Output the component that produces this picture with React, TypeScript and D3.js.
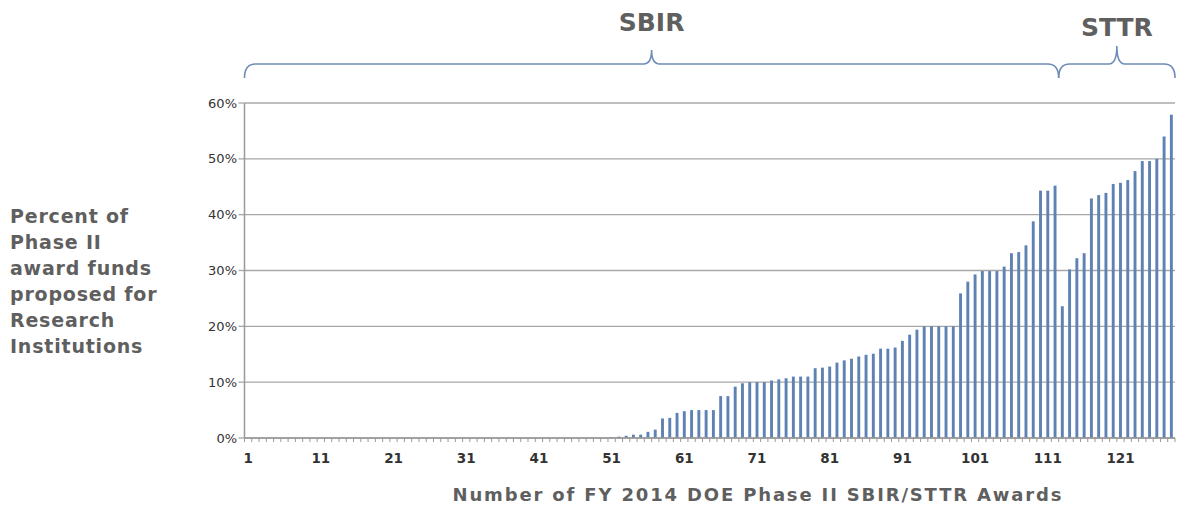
import * as d3 from "d3";

// award number 1..128, sorted by share of funds proposed for research institutions
const awardNumbers: number[] = d3.range(1, 129);

// percent of Phase II award funds proposed for research institutions
const percentValues: number[] = [
  0, 0, 0, 0, 0, 0, 0, 0, 0, 0,
  0, 0, 0, 0, 0, 0, 0, 0, 0, 0,
  0, 0, 0, 0, 0, 0, 0, 0, 0, 0,
  0, 0, 0, 0, 0, 0, 0, 0, 0, 0,
  0, 0, 0, 0, 0, 0, 0, 0, 0, 0,
  0.1, 0.25, 0.4, 0.6, 0.6, 1.1, 1.5, 3.5, 3.6, 4.5,
  4.8, 5.0, 5.0, 5.0, 5.0, 7.5, 7.5, 9.2, 9.8, 10.0,
  10.0, 10.0, 10.3, 10.5, 10.7, 11.0, 11.0, 11.0, 12.5, 12.6,
  12.8, 13.5, 13.9, 14.2, 14.6, 14.9, 15.1, 16.0, 16.0, 16.2,
  17.4, 18.5, 19.4, 20.0, 20.0, 20.0, 20.0, 20.0, 25.9, 28.0,
  29.3, 29.9, 29.9, 29.9, 30.7, 33.1, 33.3, 34.5, 38.8, 44.3,
  44.3, 45.2, 23.6, 30.2, 32.2, 33.1, 42.9, 43.5, 43.9, 45.5,
  45.7, 46.2, 47.8, 49.6, 49.6, 50.0, 54.0, 57.9,
];

const yTicks: number[] = [0, 10, 20, 30, 40, 50, 60];
const xTickLabels: number[] = [1, 11, 21, 31, 41, 51, 61, 71, 81, 91, 101, 111, 121];

// program groups shown with braces above the plot (last award number of each)
const programNames: string[] = ["SBIR", "STTR"];
const programLastAward: number[] = [112, 128];

const yTitleLines: string[] = [
  "Percent of",
  "Phase II",
  "award funds",
  "proposed for",
  "Research",
  "Institutions",
];

const W = 1179;
const H = 506;
const FONT = "'DejaVu Sans', Verdana, sans-serif";
const TITLE_GRAY = "#5f5f5f";
const GRID = "#a8a8a8";

export default function App() {
  const left = 244.5;
  const right = 1175;
  const top = 103;
  const bottom = 438;

  const x = d3
    .scaleBand<number>()
    .domain(awardNumbers)
    .range([left, right])
    .paddingInner(0.6)
    .paddingOuter(0.3);
  const step = x.step();
  const bandStart = (n: number) => (x(n) ?? 0) - step * 0.3;

  const y = d3.scaleLinear().domain([0, 60]).range([bottom, top]);

  // braces above the chart
  const braces = programNames.map((name, i) => {
    const first = i === 0 ? awardNumbers[0] : programLastAward[i - 1] + 1;
    const last = programLastAward[i];
    const x0 = bandStart(first);
    const x1 = bandStart(last) + step;
    const mid = (x0 + x1) / 2;
    const yEnd = 78;
    const yLine = 64;
    const yTip = i === 0 ? 50 : 46;
    const r = 11;
    const c = 8;
    const d = [
      `M${x0},${yEnd}`,
      `Q${x0},${yLine} ${x0 + r},${yLine}`,
      `L${mid - c},${yLine}`,
      `Q${mid},${yLine} ${mid},${yTip}`,
      `Q${mid},${yLine} ${mid + c},${yLine}`,
      `L${x1 - r},${yLine}`,
      `Q${x1},${yLine} ${x1},${yEnd}`,
    ].join(" ");
    return { name, d, mid, labelY: i === 0 ? 31 : 36 };
  });

  const boundaries = d3.range(0, awardNumbers.length + 1).map((i) => left + i * step);

  return (
    <div style={{ position: "absolute", left: 0, top: 0, width: W, height: H, background: "#fff" }}>
      <svg width={W} height={H} style={{ display: "block" }}>
        {/* gridlines */}
        {yTicks.map((t) => (
          <g key={`g${t}`}>
            <line x1={left} x2={right} y1={y(t)} y2={y(t)} stroke={GRID} strokeWidth={1.3} />
            <line x1={left - 6} x2={left} y1={y(t)} y2={y(t)} stroke={GRID} strokeWidth={1.3} />
            <text
              x={237}
              y={y(t)}
              dy="0.35em"
              textAnchor="end"
              fontFamily={FONT}
              fontSize={13}
              fill="#333"
            >
              {`${t}%`}
            </text>
          </g>
        ))}

        {/* bars */}
        {percentValues.map((v, i) => (
          <rect
            key={`b${i}`}
            x={x(awardNumbers[i])}
            y={y(v)}
            width={x.bandwidth()}
            height={bottom - y(v)}
            fill="#5f82b4"
          />
        ))}

        {/* axes */}
        <line x1={left} x2={left} y1={top} y2={bottom} stroke="#999" strokeWidth={1.5} />
        <line x1={left} x2={right} y1={bottom} y2={bottom} stroke="#999" strokeWidth={1.5} />
        {boundaries.map((bx, i) => (
          <line key={`t${i}`} x1={bx} x2={bx} y1={bottom} y2={bottom + 4} stroke="#999" strokeWidth={1} />
        ))}
        {xTickLabels.map((n) => (
          <text
            key={`xl${n}`}
            x={(x(n) ?? 0) + x.bandwidth() / 2}
            y={463}
            textAnchor="middle"
            fontFamily={FONT}
            fontWeight="bold"
            fontSize={13.5}
            fill="#333"
          >
            {n}
          </text>
        ))}

        {/* x title */}
        <text
          x={757}
          y={501}
          textAnchor="middle"
          fontFamily={FONT}
          fontWeight="bold"
          fontSize={18}
          fill={TITLE_GRAY}
          textLength={609}
          lengthAdjust="spacing"
        >
          Number of FY 2014 DOE Phase II SBIR/STTR Awards
        </text>

        {/* y title */}
        {yTitleLines.map((line, i) => (
          <text
            key={`yt${i}`}
            x={10}
            y={223 + i * 26}
            fontFamily={FONT}
            fontWeight="bold"
            fontSize={19}
            letterSpacing={0.8}
            fill={TITLE_GRAY}
          >
            {line}
          </text>
        ))}

        {/* program braces */}
        {braces.map((b) => (
          <g key={b.name}>
            <path d={b.d} fill="none" stroke="#6e8cb4" strokeWidth={1.6} />
            <text
              x={b.mid}
              y={b.labelY}
              textAnchor="middle"
              fontFamily={FONT}
              fontWeight="bold"
              fontSize={25}
              fill={TITLE_GRAY}
            >
              {b.name}
            </text>
          </g>
        ))}
      </svg>
    </div>
  );
}
